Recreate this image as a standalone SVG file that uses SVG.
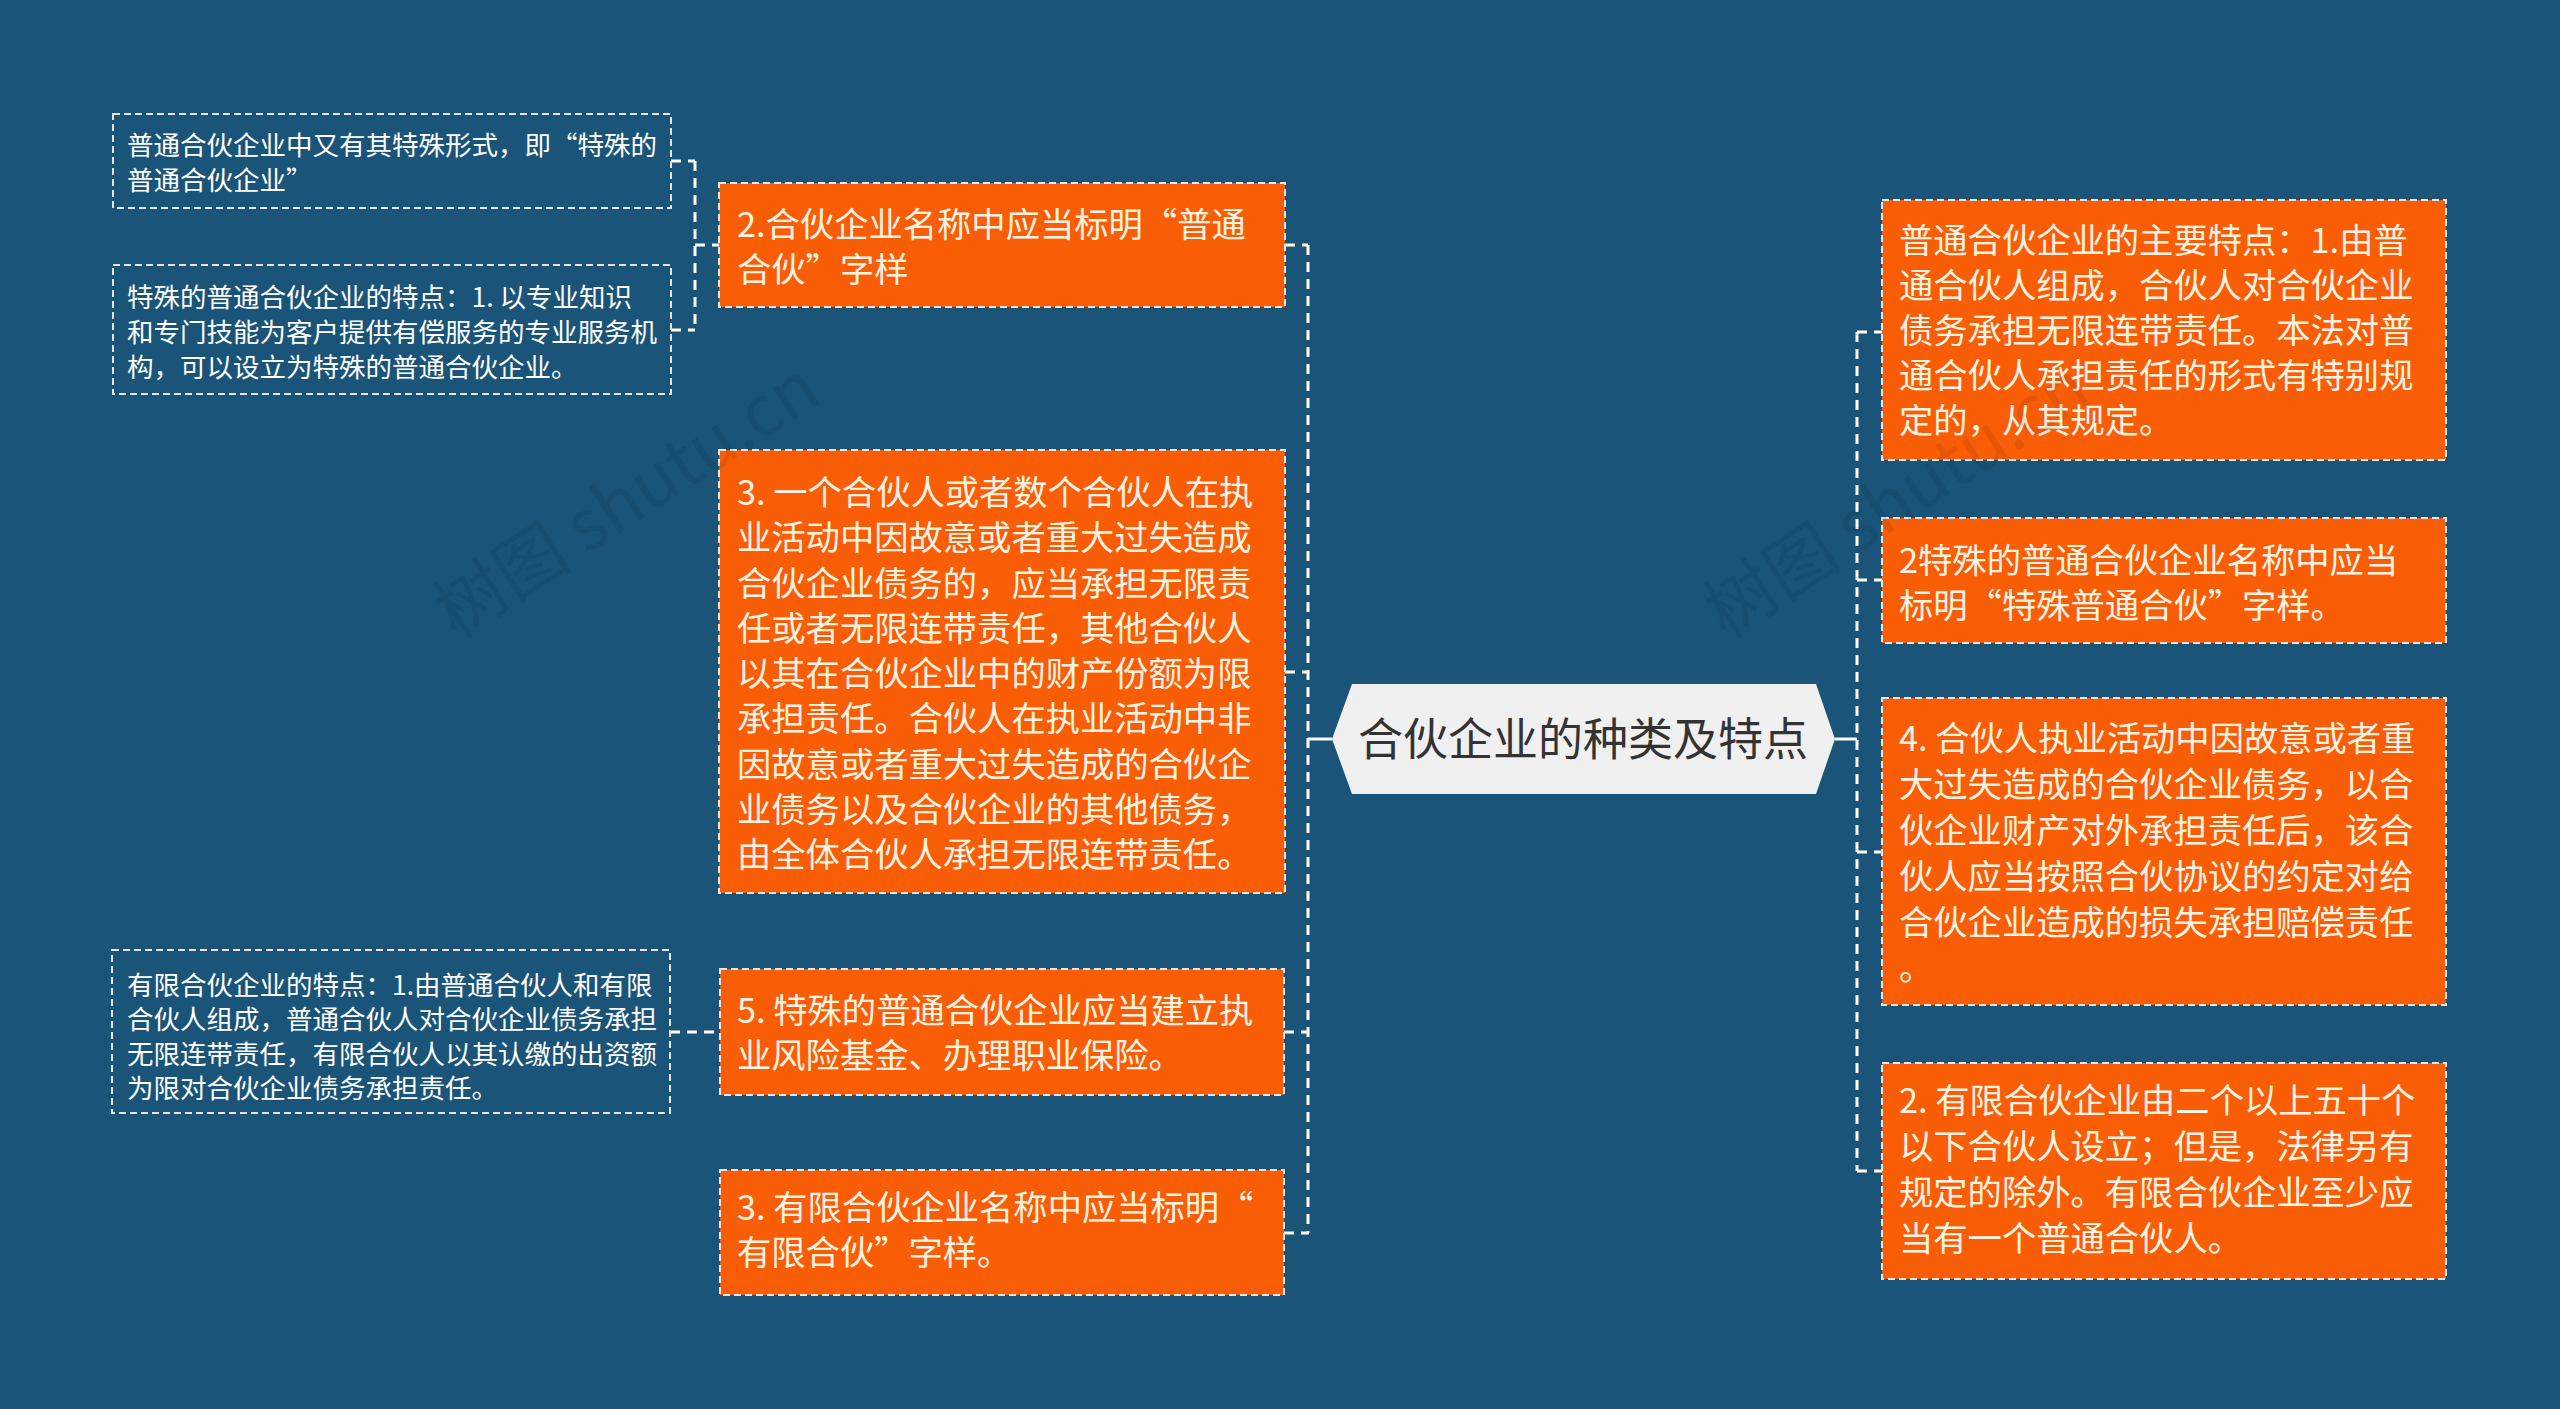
<svg xmlns="http://www.w3.org/2000/svg" width="2560" height="1409" viewBox="0 0 2560 1409">
<style>
.bg{fill:#1a5479}
.ob{fill:#f95e07;stroke:#e6e6e6;stroke-width:2;stroke-dasharray:7 4}
.sb{fill:none;stroke:#e6e6e6;stroke-width:2;stroke-dasharray:7 4}
.ot{font-family:"Noto Sans CJK SC","Noto Sans",sans-serif;font-size:34.3px;fill:#fdf3e3;transform:translateY(-3px)}
.st{font-family:"Noto Sans CJK SC","Noto Sans",sans-serif;font-size:26.5px;fill:#ffffff}
.ct{font-family:"Noto Sans CJK SC","Noto Sans",sans-serif;font-size:45px;fill:#333333}
.cn{fill:none;stroke:#ffffff;stroke-width:3;stroke-dasharray:10 7}
.cs{fill:none;stroke:#ffffff;stroke-width:3}
.wm{font-family:"Noto Sans CJK SC","Liberation Serif",serif;font-size:70px;fill:#000;opacity:0.08}
</style>
<rect class="bg" x="0" y="0" width="2560" height="1409"/>

<g id="connectors">
  <path class="cn" d="M1308 245 V1233"/>
  <path class="cn" d="M1285 245 H1308 M1285 672 H1308 M1284 1032 H1309 M1284 1233 H1309"/>
  <path class="cs" d="M1308 739 H1332"/>
  <path class="cn" d="M1857 332 V1171"/>
  <path class="cn" d="M1857 332 H1882 M1857 580 H1882 M1857 852 H1882 M1857 1171 H1882"/>
  <path class="cs" d="M1835 739 H1857"/>
  <path class="cn" d="M695 161 V330"/>
  <path class="cn" d="M671 161 H695 M671 330 H695 M695 245 H719"/>
  <path class="cn" d="M670 1032 H720"/>
</g>

<g id="center">
  <polygon points="1352,684 1816,684 1835,739 1816,794 1352,794 1332,739" fill="#f0f0f0"/>
  <text class="ct" x="1583" y="756" text-anchor="middle">合伙企业的种类及特点</text>
</g>

<g id="n-l1">
  <rect class="ob" x="719" y="183" width="566" height="124"/>
  <text class="ot" x="737"><tspan x="737" y="240">2.合伙企业名称中应当标明“普通</tspan><tspan x="737" y="285">合伙”字样</tspan></text>
</g>

<g id="n-l2">
  <rect class="ob" x="719" y="450" width="566" height="443"/>
  <text class="ot">
    <tspan x="737" y="508">3. 一个合伙人或者数个合伙人在执</tspan>
    <tspan x="737" y="553">业活动中因故意或者重大过失造成</tspan>
    <tspan x="737" y="599">合伙企业债务的，应当承担无限责</tspan>
    <tspan x="737" y="644">任或者无限连带责任，其他合伙人</tspan>
    <tspan x="737" y="689">以其在合伙企业中的财产份额为限</tspan>
    <tspan x="737" y="734">承担责任。合伙人在执业活动中非</tspan>
    <tspan x="737" y="780">因故意或者重大过失造成的合伙企</tspan>
    <tspan x="737" y="825">业债务以及合伙企业的其他债务，</tspan>
    <tspan x="737" y="870">由全体合伙人承担无限连带责任。</tspan>
  </text>
</g>

<g id="n-l3">
  <rect class="ob" x="720" y="969" width="564" height="126"/>
  <text class="ot"><tspan x="737" y="1026">5. 特殊的普通合伙企业应当建立执</tspan><tspan x="737" y="1071">业风险基金、办理职业保险。</tspan></text>
</g>

<g id="n-l4">
  <rect class="ob" x="720" y="1170" width="564" height="125"/>
  <text class="ot"><tspan x="737" y="1223">3. 有限合伙企业名称中应当标明“</tspan><tspan x="737" y="1268">有限合伙”字样。</tspan></text>
</g>

<g id="n-s1">
  <rect class="sb" x="113" y="114" width="558" height="94"/>
  <text class="st"><tspan x="127" y="155">普通合伙企业中又有其特殊形式，即“特殊的</tspan><tspan x="127" y="190">普通合伙企业”</tspan></text>
</g>

<g id="n-s2">
  <rect class="sb" x="113" y="265" width="558" height="129"/>
  <text class="st"><tspan x="127" y="307">特殊的普通合伙企业的特点：1. 以专业知识</tspan><tspan x="127" y="342">和专门技能为客户提供有偿服务的专业服务机</tspan><tspan x="127" y="377">构，可以设立为特殊的普通合伙企业。</tspan></text>
</g>

<g id="n-s3">
  <rect class="sb" x="112" y="950" width="558" height="163"/>
  <text class="st"><tspan x="127" y="995">有限合伙企业的特点：1.由普通合伙人和有限</tspan><tspan x="127" y="1029">合伙人组成，普通合伙人对合伙企业债务承担</tspan><tspan x="127" y="1064">无限连带责任，有限合伙人以其认缴的出资额</tspan><tspan x="127" y="1098">为限对合伙企业债务承担责任。</tspan></text>
</g>

<g id="n-r1">
  <rect class="ob" x="1882" y="200" width="564" height="260"/>
  <text class="ot">
    <tspan x="1899" y="256">普通合伙企业的主要特点：1.由普</tspan>
    <tspan x="1899" y="301">通合伙人组成，合伙人对合伙企业</tspan>
    <tspan x="1899" y="346">债务承担无限连带责任。本法对普</tspan>
    <tspan x="1899" y="391">通合伙人承担责任的形式有特别规</tspan>
    <tspan x="1899" y="436">定的，从其规定。</tspan>
  </text>
</g>

<g id="n-r2">
  <rect class="ob" x="1882" y="518" width="564" height="125"/>
  <text class="ot"><tspan x="1899" y="576">2特殊的普通合伙企业名称中应当</tspan><tspan x="1899" y="621">标明“特殊普通合伙”字样。</tspan></text>
</g>

<g id="n-r3">
  <rect class="ob" x="1882" y="698" width="564" height="307"/>
  <text class="ot">
    <tspan x="1899" y="754">4. 合伙人执业活动中因故意或者重</tspan>
    <tspan x="1899" y="800">大过失造成的合伙企业债务，以合</tspan>
    <tspan x="1899" y="846">伙企业财产对外承担责任后，该合</tspan>
    <tspan x="1899" y="892">伙人应当按照合伙协议的约定对给</tspan>
    <tspan x="1899" y="938">合伙企业造成的损失承担赔偿责任</tspan>
    <tspan x="1899" y="983">。</tspan>
  </text>
</g>

<g id="n-r4">
  <rect class="ob" x="1882" y="1063" width="564" height="216"/>
  <text class="ot">
    <tspan x="1899" y="1116">2. 有限合伙企业由二个以上五十个</tspan>
    <tspan x="1899" y="1162">以下合伙人设立；但是，法律另有</tspan>
    <tspan x="1899" y="1208">规定的除外。有限合伙企业至少应</tspan>
    <tspan x="1899" y="1254">当有一个普通合伙人。</tspan>
  </text>
</g>

<g id="watermarks">
  <text class="wm" transform="translate(640,520) rotate(-33)" text-anchor="middle">树图 shutu.cn</text>
  <text class="wm" transform="translate(1910,520) rotate(-33)" text-anchor="middle">树图 shutu.cn</text>
</g>
</svg>
